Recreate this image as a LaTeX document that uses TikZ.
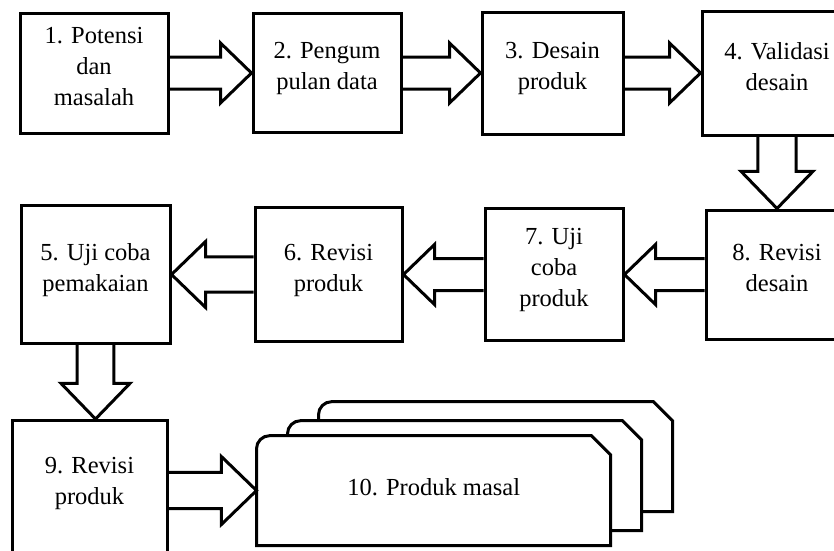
\documentclass[tikz,border=0pt]{standalone}
\usepackage{fontspec}
\setmainfont{Liberation Serif}
\usetikzlibrary{calc,positioning,backgrounds}
\newcommand*{\ShaftHalf}{16pt}
\newcommand*{\HeadHalf}{30pt}
\newcommand*{\HeadLength}{31pt}
% fat arrow from one node border to the next, #1 = size factor
\newcommand*{\BlockArrow}[3][1]{%
  \coordinate (headbase) at ($(#3)!#1*\HeadLength!(#2)$);
  \draw[block arrow] ($(#2)!#1*\ShaftHalf!90:(#3)$) -- ($(headbase)!#1*\ShaftHalf!90:(#3)$)
    -- ($(headbase)!#1*\HeadHalf!90:(#3)$) -- (#3)
    -- ($(headbase)!#1*\HeadHalf!-90:(#3)$) -- ($(headbase)!#1*\ShaftHalf!-90:(#3)$)
    -- ($(#2)!#1*\ShaftHalf!-90:(#3)$);
}
\tikzset{
  txt/.style={font=\fontsize{24.5pt}{31pt}\selectfont, align=center},
  box/.style={txt, draw, line width=3pt, inner sep=2pt, text depth=14pt},
  block arrow/.style={draw, line width=3pt, line join=miter},
  card/.style={draw, line width=3pt, fill=white},
}
\begin{document}
\begin{tikzpicture}
  \useasboundingbox (0,0) rectangle (834pt,-550pt);
  \clip (0,0) rectangle (834pt,-550pt);

  % first row
  \node[box, minimum width=148pt, minimum height=120pt] (p1) at (94pt,-73pt) {1. Potensi\\dan\\masalah};
  \node[box, right=82pt of p1, minimum width=148pt, minimum height=119pt] (p2) {2. Pengum\\pulan data};
  \node[box, right=78pt of p2, minimum width=141pt, minimum height=122pt] (p3) {3. Desain\\produk};
  \node[box, right=76pt of p3, minimum width=150pt, minimum height=124pt] (p4) {4. Validasi\\desain};

  % second row, right to left
  \node[box, below=72pt of p4, minimum width=142pt, minimum height=129pt] (p8) {8. Revisi\\desain};
  \node[box, left=80pt of p8, minimum width=138pt, minimum height=132pt] (p7) {7. Uji\\coba\\produk};
  \node[box, left=80pt of p7, minimum width=147pt, minimum height=134pt] (p6) {6. Revisi\\produk};
  \node[box, left=82pt of p6, minimum width=149pt, minimum height=138pt] (p5) {5. Uji coba\\pemakaian};

  % last row
  \node[box, below=74pt of p5, xshift=-6pt, minimum width=155pt, minimum height=134pt] (p9) {9. Revisi\\produk};
  \node[txt, right=88pt of p9, yshift=-3pt, minimum width=354pt, minimum height=110pt,
    inner sep=0pt, text depth=8pt] (p10) {10. Produk masal};

  % stacked cards behind the last text
  \begin{scope}[on background layer]
    \foreach \dx/\dy in {62/34, 31/15, 0/0}
      \draw[card] ($(p10.south west)+(\dx pt,\dy pt)$) -- ++(0,97pt)
        arc[start angle=180, end angle=90, radius=13pt] -- ++(322pt,0)
        -- ++(19pt,-19pt) -- ++(0,-91pt) -- cycle;
  \end{scope}

  % arrows
  \BlockArrow{p1.east}{p2.west}
  \BlockArrow{p2.east}{p3.west}
  \BlockArrow{p3.east}{p4.west}
  \BlockArrow[1.2]{p4.south}{p8.north}
  \BlockArrow{p8.west}{p7.east}
  \BlockArrow{p7.west}{p6.east}
  \BlockArrow[1.1]{p6.west}{p5.east}
  \BlockArrow[1.15]{p5.south}{p5.south |- p9.north}
  \BlockArrow[1.13]{p9.east |- p10.west}{p10.west}
\end{tikzpicture}
\end{document}
